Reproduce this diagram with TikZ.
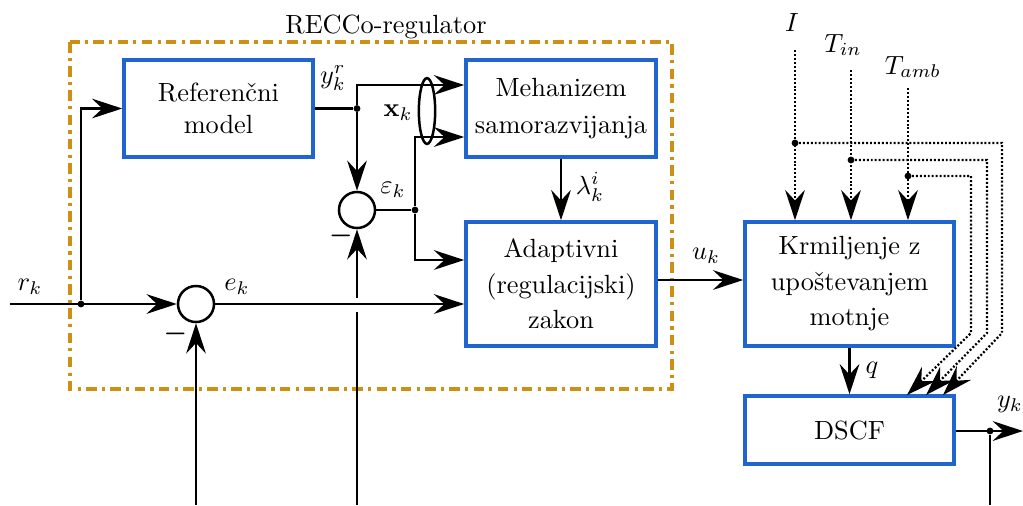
\documentclass[tikz,border=0pt]{standalone}
\usepackage{amsmath}
\usetikzlibrary{arrows.meta,shapes.geometric,calc}
\definecolor{boxblue}{RGB}{32,100,208}
\definecolor{regorange}{RGB}{204,145,20}
\begin{document}
\begin{tikzpicture}[x=0.38pt,y=-0.38pt,
  arr/.style={-{Stealth[length=11.5pt,width=7.5pt,inset=4pt]}},
  line/.style={line width=0.95pt},
  blk/.style={draw=boxblue,line width=1.4pt,align=center,inner sep=0pt},
  sumc/.style={draw,circle,line width=0.95pt,minimum size=13.7pt,inner sep=0pt},
  jdot/.style={circle,fill,inner sep=0pt,minimum size=2.6pt},
  dots/.style={line width=0.85pt,dash pattern=on 0.75pt off 0.75pt},
  lbl/.style={inner sep=0pt}
]
\useasboundingbox (0,0) rectangle (1023,505);

% RECCo regulator frame
\draw[regorange,line width=1.3pt,dash pattern=on 4pt off 2pt on 1.2pt off 2pt] (70,42) rectangle (672,389);
\node[lbl] (reglbl) at (386,27) {RECCo-regulator};

% blocks
\node[blk,minimum width=71.8pt,minimum height=36.9pt] (ref) at (218.5,108.5) {Referenčni\\model};
\node[blk,minimum width=72.2pt,minimum height=36.9pt] (meh) at (561,108.5) {Mehanizem\\[2pt]samorazvijanja};
\node[blk,minimum width=72.2pt,minimum height=47.1pt] (adap) at (561,284) {Adaptivni\\[1.5pt](regulacijski)\\[1.5pt]zakon};
\node[blk,minimum width=79.4pt,minimum height=47.1pt] (krm) at (849.5,284) {Krmiljenje z\\[1.5pt]upoštevanjem\\[1.5pt]motnje};
\node[blk,minimum width=79.4pt,minimum height=25.8pt] (dscf) at (849.5,430) {DSCF};

% summing junctions
\node[sumc] (s1) at (357,210) {};
\node[sumc] (s2) at (196,304) {};
\node[lbl] (m1) at (341,236) {$\boldsymbol{-}$};
\node[lbl] (m2) at (175.5,334) {$\boldsymbol{-}$};

% reference input
\coordinate (rin) at (10,304);
\node[jdot] (jr) at (81,304) {};
\draw[line,arr] (rin) -- (s2);
\draw[line,arr] (jr) |- (ref.west);

% reference model output
\node[jdot] (jy) at (ref.east -| s1) {};
\coordinate (min1) at ($(meh.west)+(0,-23.5)$);
\coordinate (min2) at ($(meh.west)+(0,28.5)$);
\coordinate (ain1) at ($(adap.west)+(0,-24)$);
\draw[line] (ref.east) -- (jy);
\draw[line,arr] (jy) |- (min1);
\draw[line,arr] (jy) -- (s1);

% epsilon
\node[jdot] (je) at (415,210) {};
\draw[line] (s1) -- (je);
\draw[line,arr] (je) |- (min2);
\draw[line,arr] (je) |- (ain1);

% ellipse grouping x_k
\node[draw,ellipse,line width=0.95pt,minimum width=6.2pt,minimum height=25pt,inner sep=0pt] (ell) at (427,111) {};

% e_k
\draw[line,arr] (s2) -- (adap.west |- s2);

% feedback lines from bottom
\coordinate (b1) at (196,505);
\coordinate (b2) at (357,505);
\coordinate (g1) at (357,312);
\coordinate (g2) at (357,298);
\draw[line,arr] (b1) -- (s2);
\draw[line] (b2) -- (g1);
\draw[line,arr] (g2) -- (s1);

% lambda
\draw[line,arr] (meh) -- (adap);

% u_k
\coordinate (uk) at (700,280);
\draw[line,arr] (adap.east |- uk) -- (krm.west |- uk);

% q
\draw[line,arr] (krm.south) -- (dscf.north);

% output
\coordinate (yout) at (1023,431);
\coordinate (yb) at (990,505);
\node[jdot] (jyo) at (990,431) {};
\draw[line,arr] (dscf.east |- yout) -- (yout);
\draw[line] (jyo) -- (yb);

% disturbances
\coordinate (Itop) at (795,50);
\coordinate (Ttop) at (851,70);
\coordinate (Atop) at (908,88);
\draw[dots,arr] (Itop) -- (krm.north -| Itop);
\draw[dots,arr] (Ttop) -- (krm.north -| Ttop);
\draw[dots,arr] (Atop) -- (krm.north -| Atop);
\node[jdot] (dI) at (795,143) {};
\node[jdot] (dT) at (851,160) {};
\node[jdot] (dA) at (908,176) {};
\coordinate (tI) at (943,395);
\coordinate (tT) at (926,395);
\coordinate (tA) at (907,395);
\draw[dots,arr] (dI) -- (1002,143) -- (1002,333) -- (tI);
\draw[dots,arr] (dT) -- (987,160) -- (987,333) -- (tT);
\draw[dots,arr] (dA) -- (971,176) -- (971,333) -- (tA);

% labels
\node[lbl] (lr) at (30,287) {$r_k$};
\node[lbl] (le) at (237,287) {$e_k$};
\node[lbl] (lyr) at (333,78) {$y_k^r$};
\node[lbl] (lx) at (398,113) {$\mathbf{x}_k$};
\node[lbl] (leps) at (393,190) {$\varepsilon_k$};
\node[lbl] (llam) at (590,187) {$\lambda_k^i$};
\node[lbl] (lu) at (706,256) {$u_k$};
\node[lbl] (lq) at (872,370) {$q$};
\node[lbl] (ly) at (1010,404) {$y_k$};
\node[lbl] (lI) at (792,22) {$I$};
\node[lbl] (lT) at (843,45) {$T_{in}$};
\node[lbl] (lA) at (913,67) {$T_{amb}$};
\end{tikzpicture}
\end{document}
